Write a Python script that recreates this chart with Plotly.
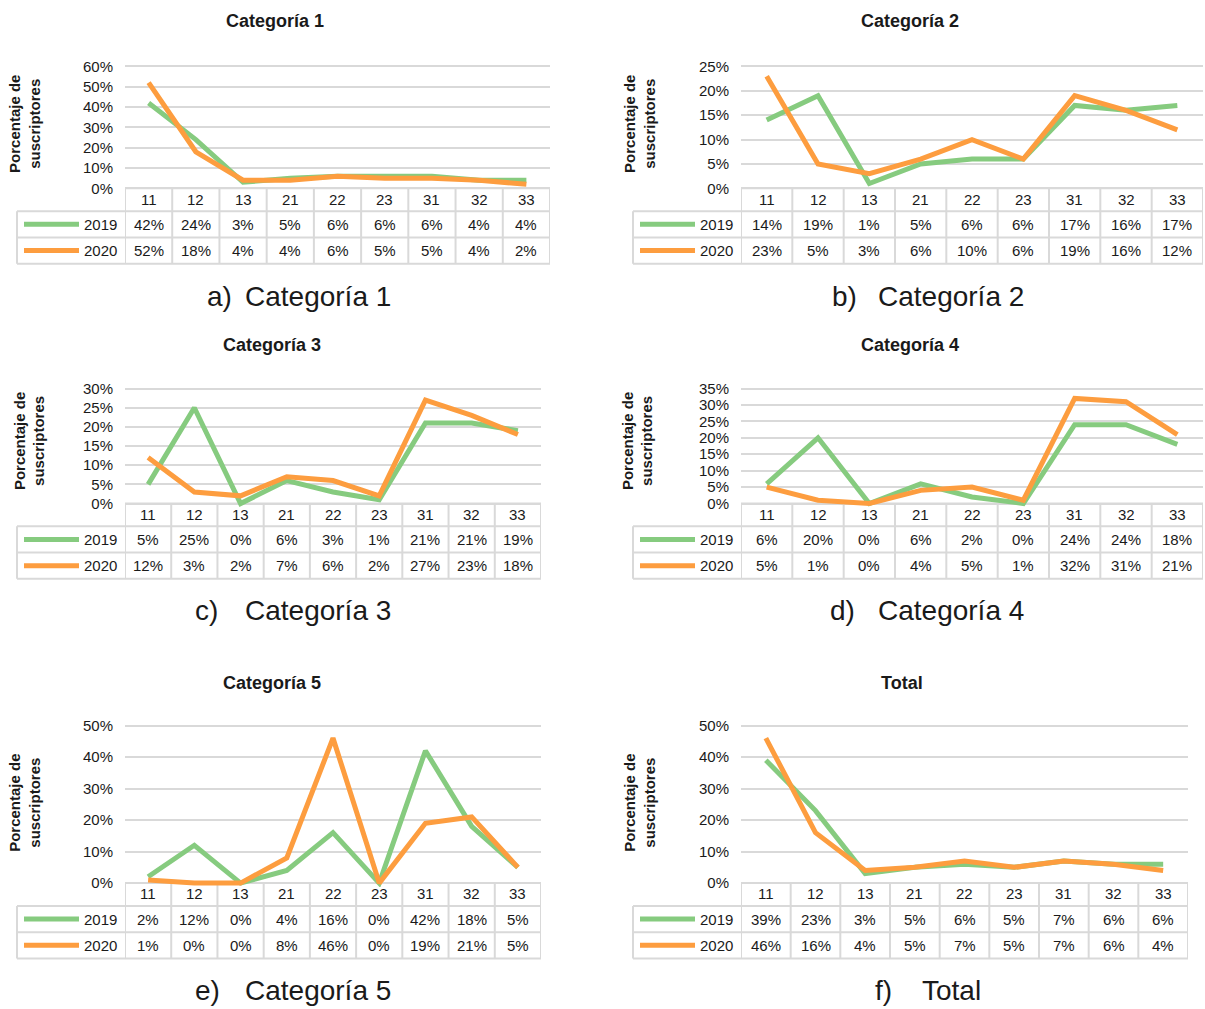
import plotly.graph_objects as go

# Category codes shared by every panel
categories = ["11", "12", "13", "21", "22", "23", "31", "32", "33"]
years = ["2019", "2020"]

# Percentage of subscribers per category code
cat1_2019 = [42, 24, 3, 5, 6, 6, 6, 4, 4]
cat1_2020 = [52, 18, 4, 4, 6, 5, 5, 4, 2]
cat2_2019 = [14, 19, 1, 5, 6, 6, 17, 16, 17]
cat2_2020 = [23, 5, 3, 6, 10, 6, 19, 16, 12]
cat3_2019 = [5, 25, 0, 6, 3, 1, 21, 21, 19]
cat3_2020 = [12, 3, 2, 7, 6, 2, 27, 23, 18]
cat4_2019 = [6, 20, 0, 6, 2, 0, 24, 24, 18]
cat4_2020 = [5, 1, 0, 4, 5, 1, 32, 31, 21]
cat5_2019 = [2, 12, 0, 4, 16, 0, 42, 18, 5]
cat5_2020 = [1, 0, 0, 8, 46, 0, 19, 21, 5]
total_2019 = [39, 23, 3, 5, 6, 5, 7, 6, 6]
total_2020 = [46, 16, 4, 5, 7, 5, 7, 6, 4]

panel_titles = ["Categoría 1", "Categoría 2", "Categoría 3", "Categoría 4", "Categoría 5", "Total"]
caption_letters = ["a)", "b)", "c)", "d)", "e)", "f)"]
axis_max = [60, 25, 30, 35, 50, 50]
axis_step = [10, 5, 5, 5, 10, 10]

series = [
    (cat1_2019, cat1_2020),
    (cat2_2019, cat2_2020),
    (cat3_2019, cat3_2020),
    (cat4_2019, cat4_2020),
    (cat5_2019, cat5_2020),
    (total_2019, total_2020),
]

W, H = 1205, 1009
FONT = "Arial, 'Liberation Sans', sans-serif"
GREEN = "#86CB7F"
ORANGE = "#FD9D3F"
GRID = "#D9D9D9"
TEXT = "#1a1a1a"
COLORS = [GREEN, ORANGE]

# Pixel geometry of each panel: plot left/right, top gridline, zero line,
# table left edge, title centre, axis-title centre, caption positions
geom = [
    dict(x0=125, x1=550, ytop=62, ybot=185, tleft=17, tx=275, ty=16, atx=25, aty=120, cl=205, ct=243, cy=294),
    dict(x0=741, x1=1203, ytop=62, ybot=185, tleft=633, tx=910, ty=16, atx=640, aty=120, cl=830, ct=876, cy=294),
    dict(x0=125, x1=541, ytop=387, ybot=503, tleft=17, tx=272, ty=343, atx=29, aty=440, cl=193, ct=243, cy=611),
    dict(x0=741, x1=1203, ytop=387, ybot=503, tleft=633, tx=910, ty=343, atx=637, aty=440, cl=828, ct=876, cy=611),
    dict(x0=125, x1=541, ytop=727, ybot=886, tleft=17, tx=272, ty=684, atx=25, aty=805, cl=193, ct=243, cy=994),
    dict(x0=741, x1=1188, ytop=727, ybot=886, tleft=633, tx=902, ty=684, atx=640, aty=805, cl=873, ct=920, cy=994),
]


def px(x):
    return x / W


def py(y):
    return 1 - y / H


fig = go.Figure()
shapes = []
annotations = []
layout_axes = {}

PAD = 4  # extra pixels so thick lines at 0% are not clipped
HEADER_H = 23
ROW_H = 26.5

for k, (g, (s19, s20)) in enumerate(zip(geom, series)):
    n = k + 1
    xa = "x" if n == 1 else f"x{n}"
    ya = "y" if n == 1 else f"y{n}"
    xkey = "xaxis" if n == 1 else f"xaxis{n}"
    ykey = "yaxis" if n == 1 else f"yaxis{n}"

    ymax = axis_max[k] / 100
    span_px = g["ybot"] - g["ytop"]
    lo = -ymax * PAD / span_px
    hi = ymax * (1 + PAD / span_px)

    layout_axes[xkey] = dict(
        domain=[px(g["x0"]), px(g["x1"])],
        range=[-0.5, len(categories) - 0.5],
        visible=False,
        anchor=ya,
        fixedrange=True,
    )
    layout_axes[ykey] = dict(
        domain=[py(g["ybot"] + PAD), py(g["ytop"] - PAD)],
        range=[lo, hi],
        tickvals=[v / 100 for v in range(0, axis_max[k] + 1, axis_step[k])],
        tickformat=".0%",
        showgrid=True,
        gridcolor=GRID,
        gridwidth=2,
        zeroline=False,
        showline=False,
        ticks="",
        ticklabelstandoff=11,
        tickfont=dict(family=FONT, size=15, color=TEXT),
        anchor=xa,
        fixedrange=True,
    )

    for vals, color in zip((s19, s20), COLORS):
        fig.add_trace(go.Scatter(
            x=list(range(len(categories))),
            y=[v / 100 for v in vals],
            mode="lines",
            line=dict(color=color, width=5),
            xaxis=xa, yaxis=ya,
            showlegend=False,
            hoverinfo="skip",
        ))

    # Data table under the plot
    yb = g["ybot"]
    y_head = yb + HEADER_H
    y_r1 = y_head + ROW_H
    y_r2 = y_r1 + ROW_H
    line_style = dict(color=GRID, width=2)

    # horizontal rules across the category columns
    for yy in (yb, y_head, y_r1, y_r2):
        shapes.append(dict(type="line", xref=xa, yref="paper",
                           x0=-0.5, x1=len(categories) - 0.5, y0=py(yy), y1=py(yy),
                           line=line_style, layer="below"))
    # horizontal rules across the legend column
    for yy in (y_head, y_r1, y_r2):
        shapes.append(dict(type="line", xref="paper", yref="paper",
                           x0=px(g["tleft"]), x1=px(g["x0"]), y0=py(yy), y1=py(yy),
                           line=line_style, layer="below"))
    # vertical rules
    for i in range(len(categories) + 1):
        shapes.append(dict(type="line", xref=xa, yref="paper",
                           x0=i - 0.5, x1=i - 0.5, y0=py(yb), y1=py(y_r2),
                           line=line_style, layer="below"))
    shapes.append(dict(type="line", xref="paper", yref="paper",
                       x0=px(g["tleft"]), x1=px(g["tleft"]), y0=py(y_head), y1=py(y_r2),
                       line=line_style, layer="below"))

    # header labels
    for i, c in enumerate(categories):
        annotations.append(dict(xref=xa, yref="paper", x=i, y=py(yb + HEADER_H / 2 - 0.5),
                                text=c, showarrow=False, xanchor="center", yanchor="middle",
                                font=dict(family=FONT, size=15, color=TEXT)))
    # value rows with legend keys
    for r, (vals, color, yr) in enumerate(zip((s19, s20), COLORS, years)):
        yc = y_head + ROW_H * (r + 0.5)
        for i, v in enumerate(vals):
            annotations.append(dict(xref=xa, yref="paper", x=i, y=py(yc),
                                    text=f"{v}%", showarrow=False, xanchor="center", yanchor="middle",
                                    font=dict(family=FONT, size=15, color=TEXT)))
        shapes.append(dict(type="line", xref="paper", yref="paper",
                           x0=px(g["tleft"] + 7), x1=px(g["tleft"] + 62), y0=py(yc), y1=py(yc),
                           line=dict(color=color, width=5)))
        annotations.append(dict(xref="paper", yref="paper", x=px(g["x0"] - 6), y=py(yc),
                                text=yr, showarrow=False, xanchor="right", yanchor="middle",
                                font=dict(family=FONT, size=15, color=TEXT)))

    # panel title
    annotations.append(dict(xref="paper", yref="paper", x=px(g["tx"]), y=py(g["ty"]),
                            text=f"<b>{panel_titles[k]}</b>", showarrow=False,
                            xanchor="center", yanchor="middle",
                            font=dict(family=FONT, size=18, color=TEXT)))
    # y-axis title
    annotations.append(dict(xref="paper", yref="paper", x=px(g["atx"]), y=py(g["aty"]),
                            text="<b>Porcentaje de<br>suscriptores</b>", showarrow=False,
                            textangle=-90, xanchor="center", yanchor="middle",
                            font=dict(family=FONT, size=15, color=TEXT)))
    # caption
    annotations.append(dict(xref="paper", yref="paper", x=px(g["cl"]), y=py(g["cy"]),
                            text=caption_letters[k], showarrow=False,
                            xanchor="left", yanchor="middle",
                            font=dict(family=FONT, size=28, color=TEXT)))
    annotations.append(dict(xref="paper", yref="paper", x=px(g["ct"]), y=py(g["cy"]),
                            text=panel_titles[k], showarrow=False,
                            xanchor="left", yanchor="middle",
                            font=dict(family=FONT, size=28, color=TEXT)))

fig.update_layout(
    width=W, height=H,
    margin=dict(l=0, r=0, t=0, b=0),
    paper_bgcolor="white",
    plot_bgcolor="white",
    shapes=shapes,
    annotations=annotations,
    font=dict(family=FONT, color=TEXT),
    **layout_axes,
)

fig.write_html("out.html")
